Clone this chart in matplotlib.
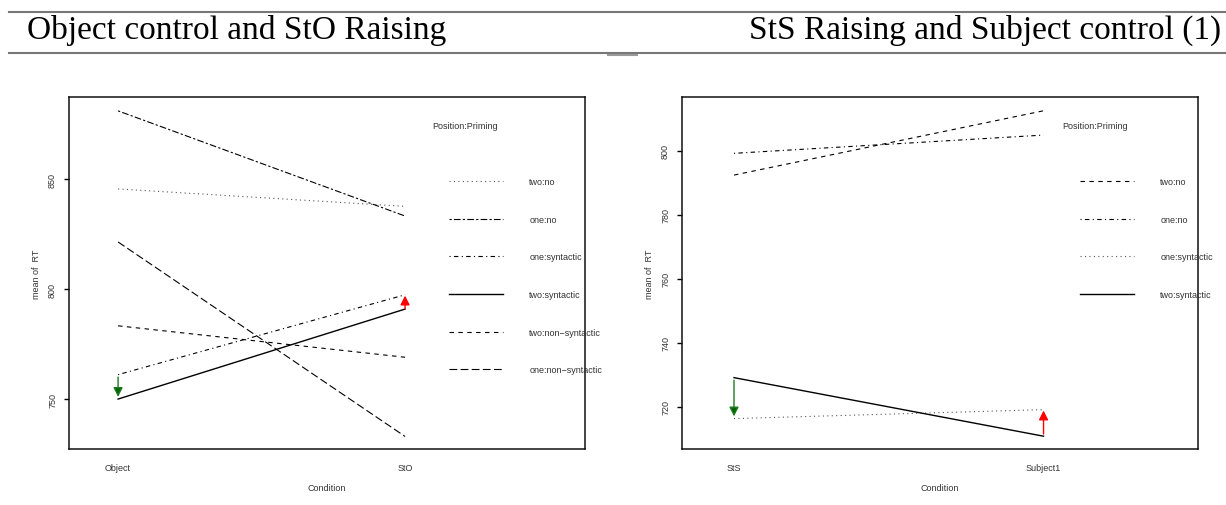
import matplotlib
matplotlib.use("Agg")
import matplotlib.pyplot as plt
from matplotlib.lines import Line2D

# ---- data ----
LEFT_CONDITIONS = ["Object", "StO"]
LEFT_GROUPS = ["two:no", "one:no", "one:syntactic", "two:syntactic",
               "two:non\u2212syntactic", "one:non\u2212syntactic"]
LEFT_RT = [
    [845.5, 837.6],   # two:no
    [881.0, 833.2],   # one:no
    [761.1, 797.4],   # one:syntactic
    [750.0, 790.9],   # two:syntactic
    [783.3, 769.0],   # two:non-syntactic
    [821.4, 733.0],   # one:non-syntactic
]
LEFT_YTICKS = [750, 800, 850]
LEFT_DOWN = [760.0, 751.0]   # green arrow at Object
LEFT_UP = [791.0, 797.0]     # red arrow at StO

RIGHT_CONDITIONS = ["StS", "Subject1"]
RIGHT_GROUPS = ["two:no", "one:no", "one:syntactic", "two:syntactic"]
RIGHT_RT = [
    [792.4, 812.5],   # two:no
    [799.2, 804.9],   # one:no
    [716.3, 719.1],   # one:syntactic
    [729.1, 710.8],   # two:syntactic
]
RIGHT_YTICKS = [720, 740, 760, 780, 800]
RIGHT_DOWN = [728.3, 717.0]
RIGHT_UP = [711.5, 718.8]

# R line types
LTY = {
    "solid": "-",
    "dashed": (0, (4, 4)),
    "dotted": (0, (1, 3)),
    "dotdash": (0, (1, 3, 4, 3)),
    "longdash": (0, (7, 3)),
    "twodash": (0, (2, 2, 6, 2)),
}
LEFT_STYLES = ["dotted", "twodash", "dotdash", "solid", "dashed", "longdash"]
RIGHT_STYLES = ["dashed", "dotdash", "dotted", "solid"]

TXT = "#333333"
FONT = ["Liberation Sans", "DejaVu Sans"]
SERIF = ["Liberation Serif", "DejaVu Serif"]
plt.rcParams["font.family"] = FONT


def draw_panel(ax, conditions, groups, values, styles, yticks, ylim, xlim,
               down, up, legend_x, title_x):
    x = list(range(1, len(conditions) + 1))
    handles = []
    for name, vals, st in zip(groups, values, styles):
        colour = "#555555" if st == "dotted" else "black"
        lw = 1.0 if st == "solid" else 0.8
        line, = ax.plot(x, vals, linestyle=LTY[st], color=colour, lw=lw,
                        label=name)
        handles.append(line)

    arrow = dict(arrowstyle="-|>,head_length=0.55,head_width=0.28", lw=1.0,
                 shrinkA=0, shrinkB=0)
    ax.annotate("", xy=(x[0], down[1]), xytext=(x[0], down[0]),
                arrowprops=dict(arrow, color="#1f7a1f", fc="#006400"))
    ax.annotate("", xy=(x[-1], up[1]), xytext=(x[-1], up[0]),
                arrowprops=dict(arrow, color="red"))

    ax.set_xlim(*xlim)
    ax.set_ylim(*ylim)
    ax.set_xticks(x)
    ax.set_xticklabels(conditions)
    ax.set_yticks(yticks)
    ax.set_yticklabels([str(t) for t in yticks], rotation=90, va="center")
    ax.tick_params(axis="x", length=0, pad=10, labelsize=6.5, labelcolor=TXT)
    ax.tick_params(axis="y", length=3.6, width=1.0, pad=5, labelsize=6.5,
                   labelcolor=TXT)
    ax.set_xlabel("Condition", fontsize=6.5, color=TXT, labelpad=8)
    ax.set_ylabel("mean of  RT", fontsize=6.5, color=TXT, labelpad=5)
    for sp in ax.spines.values():
        sp.set_linewidth(1.1)
        sp.set_color("#111111")

    ax.text(title_x, 0.918, "Position:Priming", transform=ax.transAxes,
            fontsize=6.5, color=TXT, va="center", ha="left")
    leg = ax.legend(handles=handles, loc="upper left",
                    bbox_to_anchor=(legend_x, 0.772), frameon=False,
                    fontsize=6.5, handlelength=6.0, handletextpad=2.9,
                    labelspacing=3.17, borderpad=0, borderaxespad=0)
    for t in leg.get_texts():
        t.set_color(TXT)


fig = plt.figure(figsize=(12.26, 5.06), dpi=100)

ax_l = fig.add_axes([69 / 1226, 1 - 450 / 506, 516 / 1226, 352 / 506])
draw_panel(ax_l, LEFT_CONDITIONS, LEFT_GROUPS, LEFT_RT, LEFT_STYLES,
           LEFT_YTICKS, (727.3, 887.3), (0.829, 2.627),
           LEFT_DOWN, LEFT_UP, legend_x=0.7364, title_x=0.7035)

ax_r = fig.add_axes([682 / 1226, 1 - 450 / 506, 516 / 1226, 352 / 506])
draw_panel(ax_r, RIGHT_CONDITIONS, RIGHT_GROUPS, RIGHT_RT, RIGHT_STYLES,
           RIGHT_YTICKS, (706.8, 816.8), (0.832, 2.499),
           RIGHT_DOWN, RIGHT_UP, legend_x=0.7713, title_x=0.7364)

# slide header with rules above and below
fig.add_artist(Line2D([9 / 1226, 1], [1 - 13 / 506] * 2, color="#777777", lw=1.5))
fig.add_artist(Line2D([9 / 1226, 1], [1 - 54 / 506] * 2, color="#777777", lw=1.5))
fig.add_artist(Line2D([608 / 1226, 637 / 1226], [1 - 55.5 / 506] * 2,
                      color="#999999", lw=1.5))
fig.text(27 / 1226, 1 - 39 / 506, "Object control and StO Raising",
         family=SERIF, fontsize=24, ha="left", va="baseline")
fig.text(1221 / 1226, 1 - 39 / 506, "StS Raising and Subject control (1)",
         family=SERIF, fontsize=24, ha="right", va="baseline")

fig.savefig("out.png", dpi=100)
